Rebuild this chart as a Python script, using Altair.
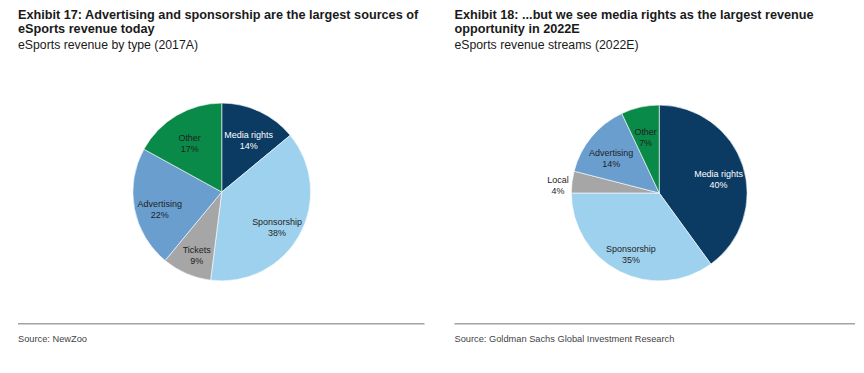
import altair as alt
import pandas as pd

# ---- data ----
cats_left = ["Media rights", "Sponsorship", "Tickets", "Advertising", "Other"]
vals_left = [14, 38, 9, 22, 17]
cats_right = ["Media rights", "Sponsorship", "Local", "Advertising", "Other"]
vals_right = [40, 35, 4, 14, 7]

title_left = "Exhibit 17: Advertising and sponsorship are the largest sources of\neSports revenue today"
subtitle_left = "eSports revenue by type (2017A)"
source_left = "Source: NewZoo"
title_right = "Exhibit 18: ...but we see media rights as the largest revenue\nopportunity in 2022E"
subtitle_right = "eSports revenue streams (2022E)"
source_right = "Source: Goldman Sachs Global Investment Research"

color_domain = ["Media rights", "Sponsorship", "Tickets", "Local", "Advertising", "Other"]
color_range = ["#0b3a62", "#9ed1ee", "#a6a6a6", "#a6a6a6", "#6a9ecf", "#0a8a48"]

SANS = "Liberation Sans, Arial, Helvetica, sans-serif"


def panel(cats, vals, title, subtitle, source, width, height, cx, cy, r, rule_x2):
    df = pd.DataFrame({"cat": cats, "val": vals, "idx": list(range(len(cats)))})
    df["label"] = [f"{c}\n{v}%" for c, v in zip(cats, vals)]
    base = alt.Chart(df)
    arcs = base.mark_arc(outerRadius=r, stroke="white", strokeWidth=0.6).encode(
        theta=alt.Theta("val:Q", stack=True),
        order=alt.Order("idx:Q"),
        color=alt.Color("cat:N", scale=alt.Scale(domain=color_domain, range=color_range), legend=None),
        x=alt.value(cx),
        y=alt.value(cy),
    )
    labels = base.mark_text(
        lineBreak="\n", font=SANS, fontSize=9, align="center", baseline="middle", lineHeight=11
    ).encode(
        theta=alt.Theta("val:Q", stack=True),
        order=alt.Order("idx:Q"),
        radius=alt.value({"expr": f"datum.val < 5 ? {r * 1.16} : {r * 0.71}"}),
        text="label:N",
        color=alt.condition(alt.datum.cat == "Media rights", alt.value("white"), alt.value("#1e1e1e")),
        x=alt.value(cx),
        y=alt.value(cy),
    )
    tdf = pd.DataFrame({"t": [title], "s": [subtitle], "src": [source]})
    tbase = alt.Chart(tdf)
    t1 = tbase.mark_text(
        lineBreak="\n", font=SANS, fontSize=12.7, fontWeight="bold", align="left",
        baseline="alphabetic", lineHeight=14, color="#1a1a1a"
    ).encode(text="t:N", x=alt.value(10), y=alt.value(11))
    t2 = tbase.mark_text(
        font=SANS, fontSize=12.3, align="left", baseline="alphabetic", color="#1a1a1a"
    ).encode(text="s:N", x=alt.value(10), y=alt.value(41))
    src = tbase.mark_text(
        font=SANS, fontSize=9.3, align="left", baseline="alphabetic", color="#444444"
    ).encode(text="src:N", x=alt.value(10), y=alt.value(334))
    rule = tbase.mark_rule(color="#a3a3a3", strokeWidth=1.5).encode(
        x=alt.value(10), x2=alt.value(rule_x2), y=alt.value(316)
    )
    return alt.layer(arcs, labels, t1, t2, rule, src).properties(width=width, height=height)


left = panel(cats_left, vals_left, title_left, subtitle_left, source_left,
             437, 350, 214, 184, 89, 417)
right = panel(cats_right, vals_right, title_right, subtitle_right, source_right,
              411, 350, 215, 185, 88, 411)

chart = alt.hconcat(left, right, spacing=0).properties(padding=0).configure_view(stroke=None)

chart.save("out.html", embed_options={"renderer": "svg", "actions": False})
